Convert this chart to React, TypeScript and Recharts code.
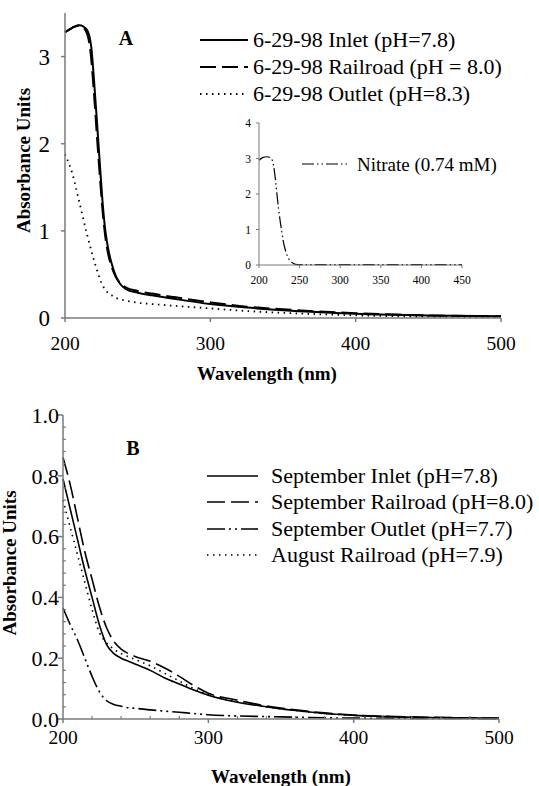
import React from 'react';
import { LineChart, Line, XAxis, YAxis, Legend } from 'recharts';

// ---------- Panel A data ----------
const wavelengthsA = [200, 205, 210, 215, 218, 220, 222, 224, 226, 228, 230, 232, 235, 238, 242, 250, 260, 275, 300, 325, 350, 400, 450, 500];
const inletA = [3.28, 3.33, 3.36, 3.31, 3.12, 2.72, 2.25, 1.76, 1.30, 0.97, 0.77, 0.63, 0.48, 0.39, 0.33, 0.29, 0.26, 0.22, 0.16, 0.12, 0.09, 0.05, 0.03, 0.02];
const railroadA = [3.28, 3.33, 3.36, 3.27, 2.98, 2.56, 2.08, 1.62, 1.20, 0.90, 0.71, 0.59, 0.47, 0.40, 0.35, 0.31, 0.28, 0.24, 0.18, 0.13, 0.10, 0.055, 0.03, 0.02];
const outletA = [1.88, 1.66, 1.32, 0.97, 0.78, 0.66, 0.55, 0.45, 0.37, 0.32, 0.28, 0.26, 0.23, 0.215, 0.20, 0.175, 0.16, 0.14, 0.11, 0.08, 0.06, 0.03, 0.015, 0.01];
const xTicksA = [200, 300, 400, 500];
const yTicksA = [0, 1, 2, 3];

// ---------- Inset data ----------
const wavelengthsInset = [200, 205, 210, 215, 218, 220, 222, 224, 226, 228, 230, 233, 236, 240, 245, 250, 300, 350, 400, 450];
const nitrate = [2.95, 3.03, 3.05, 3.0, 2.8, 2.45, 2.02, 1.6, 1.25, 0.95, 0.66, 0.38, 0.2, 0.08, 0.02, 0.01, 0.01, 0.01, 0.01, 0.01];
const xTicksInset = [200, 250, 300, 350, 400, 450];
const yTicksInset = [0, 1, 2, 3, 4];

// ---------- Panel B data ----------
const wavelengthsB = [200, 205, 210, 215, 220, 225, 230, 235, 240, 245, 250, 260, 270, 280, 290, 300, 320, 340, 360, 380, 400, 450, 500];
const septInlet = [0.79, 0.69, 0.59, 0.49, 0.40, 0.31, 0.245, 0.215, 0.20, 0.19, 0.18, 0.16, 0.135, 0.115, 0.095, 0.078, 0.055, 0.04, 0.028, 0.018, 0.012, 0.005, 0.002];
const septRailroad = [0.86, 0.77, 0.66, 0.55, 0.46, 0.37, 0.30, 0.255, 0.23, 0.215, 0.205, 0.19, 0.168, 0.14, 0.11, 0.085, 0.062, 0.043, 0.03, 0.02, 0.013, 0.006, 0.003];
const septOutlet = [0.365, 0.31, 0.26, 0.2, 0.14, 0.09, 0.06, 0.048, 0.042, 0.037, 0.035, 0.03, 0.026, 0.022, 0.018, 0.014, 0.01, 0.008, 0.006, 0.004, 0.003, 0.002, 0.001];
const augRailroad = [0.72, 0.63, 0.54, 0.45, 0.36, 0.285, 0.25, 0.23, 0.215, 0.205, 0.195, 0.175, 0.15, 0.125, 0.10, 0.08, 0.057, 0.04, 0.028, 0.018, 0.012, 0.005, 0.002];
const xTicksB = [200, 300, 400, 500];
const xMinorTicksB = [220, 240, 260, 280, 320, 340, 360, 380, 420, 440, 460, 480];
const yTicksB = [0, 0.2, 0.4, 0.6, 0.8, 1.0];
const yMinorTicksB = [0.04, 0.08, 0.12, 0.16, 0.24, 0.28, 0.32, 0.36, 0.44, 0.48, 0.52, 0.56, 0.64, 0.68, 0.72, 0.76, 0.84, 0.88, 0.92, 0.96];

const dataA = wavelengthsA.map((wl, i) => ({ wl, inlet: inletA[i], railroad: railroadA[i], outlet: outletA[i] }));
const dataInset = wavelengthsInset.map((wl, i) => ({ wl, nitrate: nitrate[i] }));
const dataB = wavelengthsB.map((wl, i) => ({
  wl,
  septInlet: septInlet[i],
  septRailroad: septRailroad[i],
  septOutlet: septOutlet[i],
  augRailroad: augRailroad[i],
}));
const allXTicksB = [...xTicksB, ...xMinorTicksB].sort((a, b) => a - b);
const allYTicksB = [...yTicksB, ...yMinorTicksB].sort((a, b) => a - b);
const isMajorX = (v: number) => xTicksB.some((t) => Math.abs(t - v) < 1e-6);
const isMajorY = (v: number) => yTicksB.some((t) => Math.abs(t - v) < 1e-6);

const SERIF = "'Liberation Serif', 'Times New Roman', serif";
const AXIS = '#7a7a7a';

type Series = { key: string; name: string; dash?: string; width: number };

const seriesA: Series[] = [
  { key: 'inlet', name: '6-29-98 Inlet (pH=7.8)', width: 2 },
  { key: 'railroad', name: '6-29-98 Railroad (pH = 8.0)', dash: '16 6', width: 2 },
  { key: 'outlet', name: '6-29-98 Outlet (pH=8.3)', dash: '1.5 4.5', width: 1.8 },
];
const seriesInset: Series[] = [
  { key: 'nitrate', name: 'Nitrate (0.74 mM)', dash: '12 3 1.5 3 1.5 3', width: 1.2 },
];
const seriesB: Series[] = [
  { key: 'septInlet', name: 'September Inlet (pH=7.8)', width: 1.6 },
  { key: 'septRailroad', name: 'September Railroad (pH=8.0)', dash: '18 6', width: 1.6 },
  { key: 'septOutlet', name: 'September Outlet (pH=7.7)', dash: '18 4 2 4 2 4', width: 1.6 },
  { key: 'augRailroad', name: 'August Railroad (pH=7.9)', dash: '1.5 4.5', width: 1.6 },
];

function LegendRows(props: { items: Series[]; lineLength: number; gap: number; rowHeight: number; fontSize: number }) {
  const { items, lineLength, gap, rowHeight, fontSize } = props;
  return (
    <div style={{ display: 'flex', flexDirection: 'column' }}>
      {items.map((it) => (
        <div key={it.key} style={{ display: 'flex', alignItems: 'center', height: rowHeight }}>
          <svg width={lineLength} height={8} style={{ display: 'block', flex: 'none' }}>
            <line x1={0} y1={4} x2={lineLength} y2={4} stroke="#000" strokeWidth={it.width} strokeDasharray={it.dash} />
          </svg>
          <span style={{ marginLeft: gap, fontSize, fontFamily: SERIF, color: '#000', whiteSpace: 'nowrap', lineHeight: 1 }}>
            {it.name}
          </span>
        </div>
      ))}
    </div>
  );
}

// Panel B ticks: major ticks outward with labels, minor ticks inward without labels
const BottomTickB = (props: any) => {
  const { x, y, payload } = props;
  const v = payload.value as number;
  const major = isMajorX(v);
  return (
    <g>
      <line x1={x} x2={x} y1={y} y2={major ? y + 4 : y - 3} stroke={AXIS} strokeWidth={major ? 1.5 : 1.2} />
      {major && (
        <text x={x} y={y + 11} dy="0.71em" textAnchor="middle" fontFamily={SERIF} fontSize={19.5} fill="#000">
          {v}
        </text>
      )}
    </g>
  );
};
const LeftTickB = (props: any) => {
  const { x, y, payload } = props;
  const v = payload.value as number;
  const major = isMajorY(v);
  return (
    <g>
      <line x1={x} x2={major ? x - 5 : x + 3} y1={y} y2={y} stroke={AXIS} strokeWidth={major ? 1.5 : 1.2} />
      {major && (
        <text x={x - 4} y={y} dy="0.355em" textAnchor="end" fontFamily={SERIF} fontSize={22} fill="#000">
          {v.toFixed(1)}
        </text>
      )}
    </g>
  );
};

const xTitle = (dx: number, dyBaseline: number) => (p: any) => {
  const vb = p.viewBox || {};
  return (
    <text x={vb.x + vb.width / 2 + dx} y={vb.y + dyBaseline} textAnchor="middle" fontFamily={SERIF} fontWeight="bold" fontSize={19} fill="#000">
      Wavelength (nm)
    </text>
  );
};
const yTitle = (cx: number, dy: number) => (p: any) => {
  const vb = p.viewBox || {};
  const x = vb.x + cx;
  const y = vb.y + vb.height / 2 + dy;
  return (
    <text x={x} y={y} transform={`rotate(-90, ${x}, ${y})`} textAnchor="middle" dominantBaseline="central" fontFamily={SERIF} fontWeight="bold" fontSize={19} fill="#000">
      Absorbance Units
    </text>
  );
};

export default function App() {
  return (
    <div style={{ position: 'absolute', left: 0, top: 0, width: 539, height: 786, overflow: 'hidden', background: '#fff' }}>
      {/* Panel A */}
      <div style={{ position: 'absolute', left: 0, top: 0 }}>
        <LineChart width={539} height={388} data={dataA} margin={{ top: 13, right: 38, bottom: 0, left: 0 }}>
          <XAxis
            dataKey="wl"
            type="number"
            domain={[200, 500]}
            ticks={xTicksA}
            interval={0}
            height={70}
            stroke={AXIS}
            axisLine={{ strokeWidth: 1.5 }}
            tickLine={{ strokeWidth: 1.5 }}
            tickSize={4}
            tickMargin={14}
            tick={{ fill: '#000', fontSize: 19.5, fontFamily: SERIF }}
            label={xTitle(-16, 62)}
          />
          <YAxis
            type="number"
            domain={[0, 3.5]}
            ticks={yTicksA}
            interval={0}
            width={65}
            stroke={AXIS}
            axisLine={{ strokeWidth: 1.5 }}
            tickLine={{ strokeWidth: 1.5 }}
            tickSize={4}
            tickMargin={11}
            tick={{ fill: '#000', fontSize: 23, fontFamily: SERIF }}
            label={yTitle(23.5, -5)}
          />
          <Legend
            layout="vertical"
            align="center"
            verticalAlign="middle"
            wrapperStyle={{ left: 200, top: 27, width: 330 }}
            content={() => <LegendRows items={seriesA} lineLength={48} gap={5} rowHeight={26.7} fontSize={22} />}
          />
          {seriesA.map((s) => (
            <Line key={s.key} type="monotone" dataKey={s.key} name={s.name} stroke="#000" strokeWidth={s.width} strokeDasharray={s.dash} dot={false} isAnimationActive={false} />
          ))}
        </LineChart>
      </div>

      {/* Inset */}
      <div style={{ position: 'absolute', left: 200, top: 100 }}>
        <LineChart width={320} height={200} data={dataInset} margin={{ top: 23, right: 58, bottom: 0, left: 0 }}>
          <XAxis
            dataKey="wl"
            type="number"
            domain={[200, 450]}
            ticks={xTicksInset}
            interval={0}
            height={35}
            stroke={AXIS}
            axisLine={{ strokeWidth: 1 }}
            tickLine={{ strokeWidth: 1 }}
            tickSize={3}
            tickMargin={8}
            tick={{ fill: '#000', fontSize: 11.5, fontFamily: SERIF }}
          />
          <YAxis
            type="number"
            domain={[0, 4]}
            ticks={yTicksInset}
            interval={0}
            width={59}
            stroke={AXIS}
            axisLine={{ strokeWidth: 1 }}
            tickLine={{ strokeWidth: 1 }}
            tickSize={3}
            tickMargin={5}
            tick={{ fill: '#000', fontSize: 11.5, fontFamily: SERIF }}
          />
          <Legend
            layout="vertical"
            align="center"
            verticalAlign="middle"
            wrapperStyle={{ left: 102, top: 52, width: 210 }}
            content={() => <LegendRows items={seriesInset} lineLength={45} gap={10} rowHeight={24} fontSize={19} />}
          />
          {seriesInset.map((s) => (
            <Line key={s.key} type="monotone" dataKey={s.key} name={s.name} stroke="#000" strokeWidth={s.width} strokeDasharray={s.dash} dot={false} isAnimationActive={false} />
          ))}
        </LineChart>
      </div>

      {/* Panel B */}
      <div style={{ position: 'absolute', left: 0, top: 380 }}>
        <LineChart width={539} height={406} data={dataB} margin={{ top: 35, right: 40, bottom: 0, left: 0 }}>
          <XAxis
            dataKey="wl"
            type="number"
            domain={[200, 500]}
            ticks={allXTicksB}
            interval={0}
            height={67}
            stroke={AXIS}
            axisLine={{ strokeWidth: 1.5 }}
            tickLine={false}
            tickSize={0}
            tickMargin={0}
            tick={BottomTickB}
            label={xTitle(0, 64)}
          />
          <YAxis
            type="number"
            domain={[0, 1]}
            ticks={allYTicksB}
            interval={0}
            width={63}
            stroke={AXIS}
            axisLine={{ strokeWidth: 1.5 }}
            tickLine={false}
            tickSize={0}
            tickMargin={0}
            tick={LeftTickB}
            label={yTitle(9.5, -4)}
          />
          <Legend
            layout="vertical"
            align="center"
            verticalAlign="middle"
            wrapperStyle={{ left: 207, top: 83, width: 332 }}
            content={() => <LegendRows items={seriesB} lineLength={51} gap={13} rowHeight={26.3} fontSize={22} />}
          />
          {seriesB.map((s) => (
            <Line key={s.key} type="monotone" dataKey={s.key} name={s.name} stroke="#000" strokeWidth={s.width} strokeDasharray={s.dash} dot={false} isAnimationActive={false} />
          ))}
        </LineChart>
      </div>

      {/* Panel letters */}
      <svg width={539} height={786} style={{ position: 'absolute', left: 0, top: 0, pointerEvents: 'none' }}>
        <text x={126} y={45} textAnchor="middle" fontFamily={SERIF} fontWeight="bold" fontSize={20} fill="#000">A</text>
        <text x={133} y={455} textAnchor="middle" fontFamily={SERIF} fontWeight="bold" fontSize={20} fill="#000">B</text>
      </svg>
    </div>
  );
}
